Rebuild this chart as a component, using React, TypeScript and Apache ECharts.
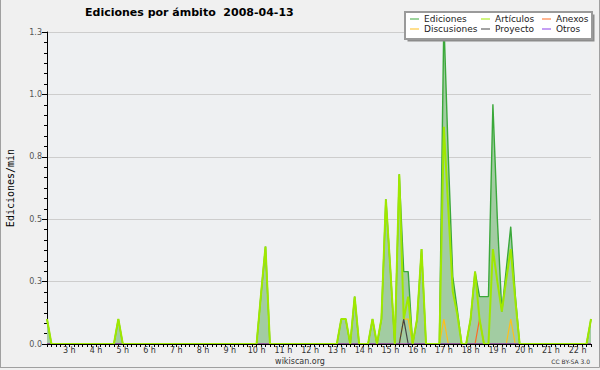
import React, { useEffect, useRef } from "react";
import * as echarts from "echarts";

// 10-minute slots from 2:10 to 22:30
const startMinute = 130;
const slotCount = 123;
const times: string[] = [];
for (let i = 0; i < slotCount; i++) {
  const m = startMinute + i * 10;
  times.push(`${Math.floor(m / 60)}:${String(m % 60).padStart(2, "0")}`);
}

// values (edits/min), one per 10-minute slot
const ediciones = [
  0.1, 0, 0, 0, 0, 0, 0, 0, 0, 0,
  0, 0, 0, 0, 0, 0, 0.1, 0, 0, 0,
  0, 0, 0, 0, 0, 0, 0, 0, 0, 0,
  0, 0, 0, 0, 0, 0, 0, 0, 0, 0,
  0, 0, 0, 0, 0, 0, 0, 0, 0.2, 0.39,
  0, 0, 0, 0, 0, 0, 0, 0, 0, 0,
  0, 0, 0, 0, 0, 0, 0.1, 0.1, 0, 0.19,
  0, 0, 0, 0.1, 0, 0.1, 0.58, 0.3, 0, 0.68,
  0.29, 0.29, 0, 0.1, 0.38, 0, 0, 0, 0, 1.3,
  0.75, 0.27, 0.14, 0, 0, 0.1, 0.29, 0.19, 0.19, 0.19,
  0.96, 0.5, 0.13, 0.3, 0.47, 0.2, 0, 0, 0, 0,
  0, 0, 0, 0, 0, 0, 0, 0, 0, 0,
  0, 0, 0.1,
];
const articulos = [
  0.1, 0, 0, 0, 0, 0, 0, 0, 0, 0,
  0, 0, 0, 0, 0, 0, 0.1, 0, 0, 0,
  0, 0, 0, 0, 0, 0, 0, 0, 0, 0,
  0, 0, 0, 0, 0, 0, 0, 0, 0, 0,
  0, 0, 0, 0, 0, 0, 0, 0, 0.2, 0.39,
  0, 0, 0, 0, 0, 0, 0, 0, 0, 0,
  0, 0, 0, 0, 0, 0, 0.1, 0.1, 0, 0.19,
  0, 0, 0, 0.1, 0, 0.1, 0.58, 0.3, 0, 0.68,
  0.1, 0.19, 0, 0.1, 0.38, 0, 0, 0, 0, 0.87,
  0.54, 0.21, 0.12, 0, 0, 0.1, 0.29, 0.1, 0, 0,
  0.38, 0.25, 0.13, 0.26, 0.38, 0.18, 0, 0, 0, 0,
  0, 0, 0, 0, 0, 0, 0, 0, 0, 0,
  0, 0, 0.1,
];
const anexos = [
  0, 0, 0, 0, 0, 0, 0, 0, 0, 0,
  0, 0, 0, 0, 0, 0, 0, 0, 0, 0,
  0, 0, 0, 0, 0, 0, 0, 0, 0, 0,
  0, 0, 0, 0, 0, 0, 0, 0, 0, 0,
  0, 0, 0, 0, 0, 0, 0, 0, 0, 0,
  0, 0, 0, 0, 0, 0, 0, 0, 0, 0,
  0, 0, 0, 0, 0, 0, 0, 0, 0, 0,
  0, 0, 0, 0, 0, 0, 0, 0, 0, 0,
  0, 0, 0, 0, 0, 0, 0, 0, 0, 0,
  0, 0, 0, 0, 0, 0, 0, 0.1, 0, 0,
  0, 0, 0, 0, 0, 0, 0, 0, 0, 0,
  0, 0, 0, 0, 0, 0, 0, 0, 0, 0,
  0, 0, 0,
];
const discusiones = [
  0, 0, 0, 0, 0, 0, 0, 0, 0, 0,
  0, 0, 0, 0, 0, 0, 0, 0, 0, 0,
  0, 0, 0, 0, 0, 0, 0, 0, 0, 0,
  0, 0, 0, 0, 0, 0, 0, 0, 0, 0,
  0, 0, 0, 0, 0, 0, 0, 0, 0, 0,
  0, 0, 0, 0, 0, 0, 0, 0, 0, 0,
  0, 0, 0, 0, 0, 0, 0, 0, 0, 0,
  0, 0, 0, 0, 0, 0, 0, 0, 0, 0,
  0.1, 0.1, 0, 0, 0, 0, 0, 0, 0, 0.1,
  0, 0, 0, 0, 0, 0, 0, 0, 0, 0,
  0, 0, 0, 0, 0.1, 0, 0, 0, 0, 0,
  0, 0, 0, 0, 0, 0, 0, 0, 0, 0,
  0, 0, 0,
];
const proyecto = [
  0, 0, 0, 0, 0, 0, 0, 0, 0, 0,
  0, 0, 0, 0, 0, 0, 0, 0, 0, 0,
  0, 0, 0, 0, 0, 0, 0, 0, 0, 0,
  0, 0, 0, 0, 0, 0, 0, 0, 0, 0,
  0, 0, 0, 0, 0, 0, 0, 0, 0, 0,
  0, 0, 0, 0, 0, 0, 0, 0, 0, 0,
  0, 0, 0, 0, 0, 0, 0, 0, 0, 0,
  0, 0, 0, 0, 0, 0, 0, 0, 0, 0,
  0.1, 0, 0, 0, 0, 0, 0, 0, 0, 0,
  0, 0, 0, 0, 0, 0, 0, 0, 0, 0,
  0, 0, 0, 0, 0, 0, 0, 0, 0, 0,
  0, 0, 0, 0, 0, 0, 0, 0, 0, 0,
  0, 0, 0,
];
const otros = [
  0, 0, 0, 0, 0, 0, 0, 0, 0, 0,
  0, 0, 0, 0, 0, 0, 0, 0, 0, 0,
  0, 0, 0, 0, 0, 0, 0, 0, 0, 0,
  0, 0, 0, 0, 0, 0, 0, 0, 0, 0,
  0, 0, 0, 0, 0, 0, 0, 0, 0, 0,
  0, 0, 0, 0, 0, 0, 0, 0, 0, 0,
  0, 0, 0, 0, 0, 0, 0, 0, 0, 0,
  0, 0, 0, 0, 0, 0, 0, 0, 0, 0,
  0, 0, 0, 0, 0, 0, 0, 0, 0, 0,
  0, 0, 0, 0, 0, 0, 0, 0, 0, 0,
  0, 0, 0, 0, 0, 0, 0, 0, 0, 0,
  0, 0, 0, 0, 0, 0, 0, 0, 0, 0,
  0, 0, 0,
];

const yTicks = [0, 0.25, 0.5, 0.75, 1.0, 1.25];

const colors: Record<string, string> = {
  Ediciones: "#3aa83a",
  "Artículos": "#9fe800",
  Anexos: "#ff6a22",
  Discusiones: "#ffbf1a",
  Proyecto: "#444444",
  Otros: "#8a3ee8",
};

export default function App() {
  const ref = useRef<HTMLDivElement>(null);
  useEffect(() => {
    if (!ref.current) return;
    const chart = echarts.init(ref.current, null, { renderer: "svg" });
    const legendCommon = {
      orient: "vertical",
      top: 14,
      icon: "rect",
      itemWidth: 9,
      itemHeight: 1,
      itemGap: 0,
      padding: 0,
      selectedMode: false,
      textStyle: { fontFamily: "DejaVu Sans", fontSize: 9, color: "#222", lineHeight: 10 },
    };
    const line = (name: string, data: number[], width: number, extra: any = {}) => ({
      name,
      type: "line",
      data,
      showSymbol: false,
      symbol: "none",
      color: colors[name],
      lineStyle: { color: colors[name], width },
      itemStyle: { color: colors[name] },
      ...extra,
    });
    chart.setOption({
      animation: false,
      backgroundColor: "#f0f0f0",
      title: {
        text: "Ediciones por ámbito  2008-04-13",
        left: 85,
        top: 7,
        padding: 0,
        textStyle: { fontFamily: "DejaVu Sans", fontWeight: "bold", fontSize: 11, color: "#000" },
      },
      legend: [
        { ...legendCommon, left: 410, data: ["Ediciones", "Discusiones"] },
        { ...legendCommon, left: 481, data: ["Artículos", "Proyecto"] },
        { ...legendCommon, left: 542, data: ["Anexos", "Otros"] },
      ],
      grid: {
        left: 47,
        right: 9,
        top: 32,
        bottom: 26,
        containLabel: false,
        outerBoundsMode: "none",
        show: true,
        backgroundColor: "#eef0f2",
        borderWidth: 0,
      },
      xAxis: {
        type: "category",
        data: times,
        boundaryGap: false,
        z: 5,
        axisLine: { lineStyle: { color: "#000", width: 1 } },
        axisTick: { interval: 0, length: 3, lineStyle: { color: "#000" } },
        axisLabel: {
          interval: (i: number) => i % 6 === 5,
          formatter: (v: string) => `${parseInt(v, 10)} h`,
          fontFamily: "DejaVu Sans",
          fontSize: 8,
          color: "#333",
          margin: 2,
        },
        splitLine: { show: false },
      },
      yAxis: {
        type: "value",
        min: 0,
        max: yTicks[yTicks.length - 1],
        interval: 0.25,
        name: "Ediciones/min",
        nameLocation: "middle",
        nameGap: 32,
        nameRotate: 90,
        nameTextStyle: { fontFamily: "DejaVu Sans Mono", fontSize: 10, color: "#000" },
        axisLine: { show: true, lineStyle: { color: "#000" } },
        axisTick: { show: true, length: 5, lineStyle: { color: "#000" } },
        minorTick: { show: true, splitNumber: 6, length: 3, lineStyle: { color: "#000" } },
        axisLabel: {
          formatter: (v: number) => v.toFixed(1),
          fontFamily: "DejaVu Sans",
          fontSize: 8,
          color: "#555",
          margin: 5,
        },
        splitLine: { lineStyle: { color: "#cdcdcd", width: 1 } },
      },
      series: [
        line("Ediciones", ediciones, 1.4, { areaStyle: { color: "#a2cca2", opacity: 1 }, z: 2 }),
        line("Anexos", anexos, 1.2, { z: 3 }),
        line("Discusiones", discusiones, 1.2, { z: 3 }),
        line("Proyecto", proyecto, 1.2, { z: 3 }),
        line("Otros", otros, 1.2, { z: 3 }),
        line("Artículos", articulos, 2, { z: 3 }),
      ],
      graphic: [
        { type: "line", z: 1, shape: { x1: 0.5, y1: 0, x2: 0.5, y2: 367.5 }, style: { stroke: "#a0a0a0", lineWidth: 1 } },
        { type: "line", z: 1, shape: { x1: 0, y1: 367.5, x2: 599.5, y2: 367.5 }, style: { stroke: "#a0a0a0", lineWidth: 1 } },
        { type: "line", z: 1, shape: { x1: 599.5, y1: 0, x2: 599.5, y2: 367.5 }, style: { stroke: "#a0a0a0", lineWidth: 1 } },
        { type: "rect", z: 3, shape: { x: 407.5, y: 14.5, width: 187, height: 27 }, style: { fill: "#8c8c8c" } },
        { type: "rect", z: 3, shape: { x: 405, y: 12, width: 187, height: 27 }, style: { fill: "#ffffff", stroke: "#9a9a9a", lineWidth: 2 } },
        {
          type: "text",
          z: 5,
          x: 300,
          y: 361,
          style: { text: "wikiscan.org", fill: "#333", font: "8px 'DejaVu Sans'", textAlign: "center", textVerticalAlign: "middle" },
        },
        {
          type: "text",
          z: 5,
          x: 590,
          y: 361,
          style: { text: "CC BY-SA 3.0", fill: "#333", font: "6px 'DejaVu Sans'", textAlign: "right", textVerticalAlign: "middle" },
        },
      ],
    });
    return () => chart.dispose();
  }, []);
  return <div ref={ref} style={{ position: "absolute", left: 0, top: 0, width: 600, height: 370 }} />;
}
